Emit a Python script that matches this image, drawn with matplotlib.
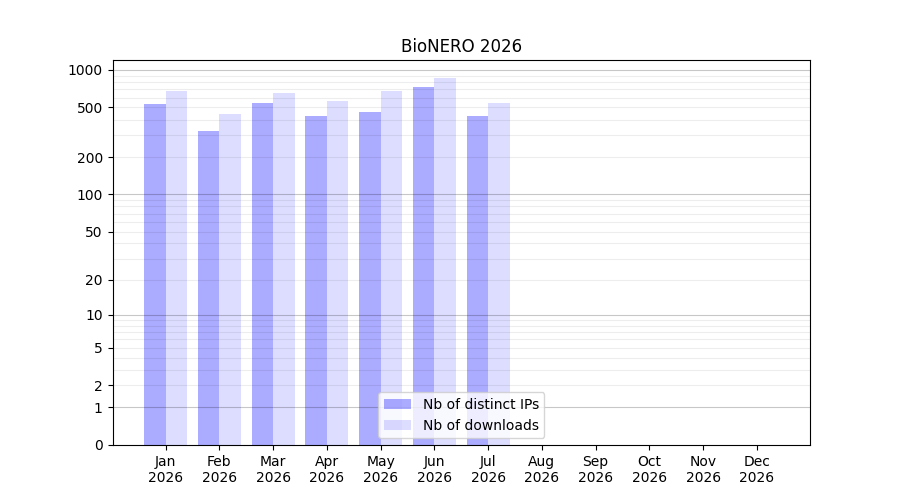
import numpy as np
import matplotlib
matplotlib.use("Agg")
import matplotlib.pyplot as plt

months = ["Jan", "Feb", "Mar", "Apr", "May", "Jun", "Jul", "Aug", "Sep", "Oct", "Nov", "Dec"]
year = "2026"
distinct_ips = [535, 324, 545, 428, 460, 730, 428, 0, 0, 0, 0, 0]
downloads = [679, 444, 654, 564, 679, 862, 544, 0, 0, 0, 0, 0]
yticks = [0, 1, 2, 5, 10, 20, 50, 100, 200, 500, 1000]


def fwd(v):
    return np.log10(1 + np.asarray(v, dtype=float))


def inv(v):
    return 10 ** np.asarray(v, dtype=float) - 1


fig, ax = plt.subplots(figsize=(9, 5), dpi=100)

x = np.arange(len(months))
ax.bar(x - 0.2, distinct_ips, width=0.4, color="blue", alpha=0.33, label="Nb of distinct IPs")
ax.bar(x + 0.2, downloads, width=0.4, color="blue", alpha=0.133, label="Nb of downloads")

ax.set_yscale("function", functions=(fwd, inv))
ax.set_ylim(0, 1200)
ax.set_yticks(yticks)
ax.set_yticklabels([str(t) for t in yticks])
ax.minorticks_off()

# grid: darker at decades, light in between
for k in [1, 10, 100]:
    ax.axhline(k, color="#000000", alpha=0.22, lw=0.8, zorder=2)
    for m in range(2, 10):
        ax.axhline(k * m, color="#000000", alpha=0.07, lw=0.8, zorder=2)
ax.axhline(1000, color="#000000", alpha=0.22, lw=0.8, zorder=2)

ax.set_xticks(x)
ax.set_xticklabels([m + "\n" + year for m in months])

ax.set_title("BioNERO 2026")
ax.legend(loc="lower center")

fig.savefig("out.png")
